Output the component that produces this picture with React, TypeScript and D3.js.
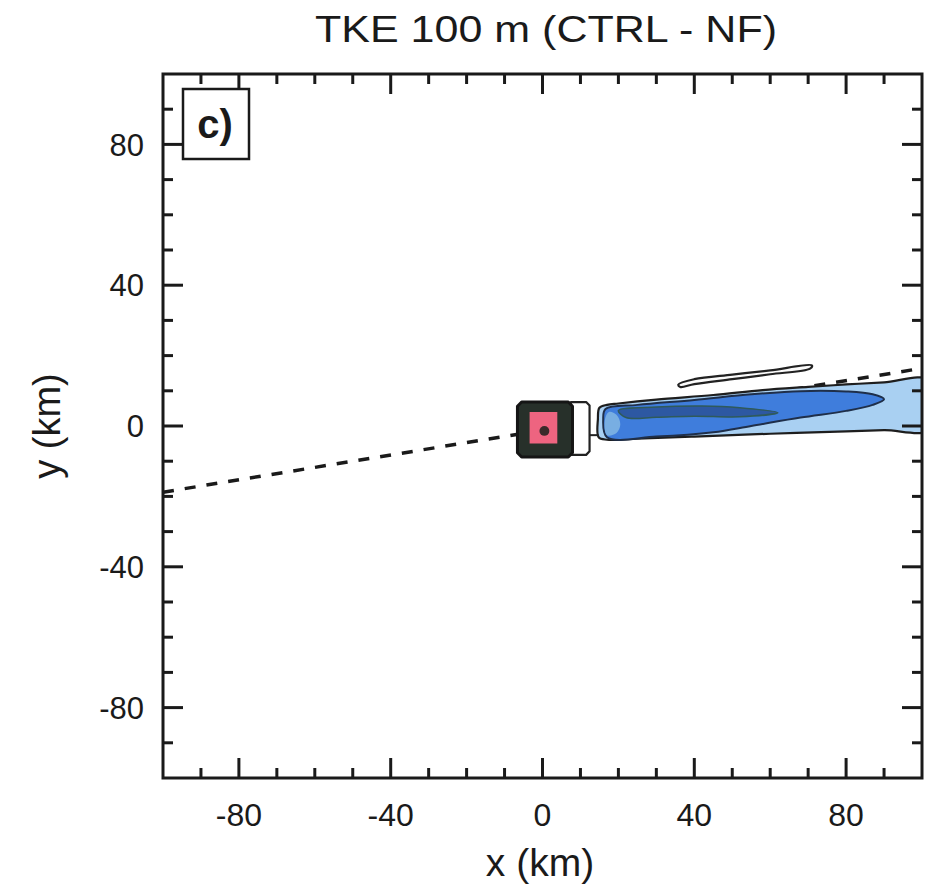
import React, { useEffect, useRef } from 'react';
import * as d3 from 'd3';

// axis ticks (km)
const majorTicks = [-80, -40, 0, 40, 80];
const minorTicks = [-90, -70, -60, -50, -30, -20, -10, 10, 20, 30, 50, 60, 70, 90];

// dashed trajectory line (km)
const trackLine: [number, number][] = [[-100, -18.8], [100, 16.4]];

// contour outlines (km)
const plumeOuter: [number, number][] = [
  [14.6, 2], [15, 5.2], [17, 6], [20, 6.4], [30, 7.5], [45, 8.8], [58, 10.2], [70, 11.1],
  [80, 11.8], [90, 12.4], [102, 13], [102, -1], [90, -1.2], [80, -1.5], [60, -2.2],
  [40, -3], [25, -3.6], [17, -3.9], [14.8, -3.2],
];
const plumeMid: [number, number][] = [
  [16, 2], [16.6, 4.8], [25, 6], [40, 7.4], [55, 9], [68, 9.9], [80, 9.8], [87, 9],
  [90, 7.6], [87, 6], [80, 4.3], [68, 2.4], [55, 0], [45, -1.8], [30, -3], [17, -3.2],
];
const plumeCore: [number, number][] = [
  [20, 4.4], [30, 5.4], [42, 5.7], [52, 5.2], [62, 3.8], [52, 2.6], [40, 2.8], [30, 2.5], [22, 2.4],
];
const plumeEdge: [number, number][] = [
  [16.4, 1.5], [17.5, 4], [19.5, 3.2], [20.5, 0.5], [19.5, -2], [17, -2.6],
];
const thinLobe: [number, number][] = [
  [35.8, 11.8], [40, 13.3], [50, 14.6], [60, 15.8], [71, 17.2], [70.5, 16.3], [60, 14.7],
  [50, 13.3], [40, 11.9], [36.3, 11.1],
];
const whiteBox: [number, number][] = [
  [7.5, 6.8], [11.5, 6.8], [12.4, 5.8], [12.4, -7.2], [11.5, -8.2], [7.5, -8.2],
];
const darkSquare: [number, number][] = [
  [-5.5, 6.8], [6.8, 6.8], [7.9, 5.6], [7.9, -7.6], [6.8, -8.8], [-5.5, -8.8], [-6.6, -7.6], [-6.6, 5.6],
];
const pinkSquare: [number, number][] = [[-3.4, 4], [3.9, 4], [3.9, -5], [-3.4, -5]];
const connector: [number, number][] = [[12.4, -2.6], [14.8, -2.6]];
const centreDot: [number, number] = [0.5, -1.4];

function TkeChart() {
  const ref = useRef<SVGSVGElement | null>(null);

  useEffect(() => {
    const element = ref.current;
    if (!element) return;
    document.body.style.margin = '0';

    const svg = d3.select(element);
    svg.selectAll('*').remove();

    const left = 163;
    const right = 922;
    const top = 74;
    const bottom = 778;
    const font = 'Liberation Sans, Arial, sans-serif';

    const x = d3.scaleLinear().domain([-100, 100]).range([left, right]);
    const y = d3.scaleLinear().domain([-100, 100]).range([bottom, top]);

    svg.append('defs')
      .append('clipPath')
      .attr('id', 'plot-clip')
      .append('rect')
      .attr('x', left)
      .attr('y', top)
      .attr('width', right - left)
      .attr('height', bottom - top);

    const g = svg.append('g').attr('clip-path', 'url(#plot-clip)');

    const closed = d3.line<[number, number]>()
      .x((d) => x(d[0]))
      .y((d) => y(d[1]))
      .curve(d3.curveCatmullRomClosed);
    const sharp = d3.line<[number, number]>()
      .x((d) => x(d[0]))
      .y((d) => y(d[1]))
      .curve(d3.curveLinearClosed);
    const open = d3.line<[number, number]>()
      .x((d) => x(d[0]))
      .y((d) => y(d[1]));

    // dashed line underneath the fills
    g.append('path')
      .attr('d', open(trackLine))
      .attr('fill', 'none')
      .attr('stroke', '#1a1a1a')
      .attr('stroke-width', 3.5)
      .attr('stroke-dasharray', '11 11');

    g.append('path').attr('d', closed(plumeOuter))
      .attr('fill', '#a9d0f2').attr('stroke', '#1e1e1e').attr('stroke-width', 2.2);
    g.append('path').attr('d', closed(plumeMid))
      .attr('fill', '#3f7ddc').attr('stroke', '#1f2f4a').attr('stroke-width', 2);
    g.append('path').attr('d', closed(plumeCore))
      .attr('fill', '#2d58a2').attr('stroke', '#2f5a5a').attr('stroke-width', 1.5);
    g.append('path').attr('d', closed(plumeEdge))
      .attr('fill', '#78aee2').attr('stroke', 'none');
    g.append('path').attr('d', closed(thinLobe))
      .attr('fill', '#fbfbfb').attr('stroke', '#222').attr('stroke-width', 2.2);

    g.append('path').attr('d', open(connector))
      .attr('fill', 'none').attr('stroke', '#222').attr('stroke-width', 2);
    g.append('path').attr('d', sharp(whiteBox))
      .attr('fill', '#ffffff').attr('stroke', '#222').attr('stroke-width', 2.2)
      .attr('stroke-linejoin', 'round');
    g.append('path').attr('d', sharp(darkSquare))
      .attr('fill', '#27302a').attr('stroke', '#151515').attr('stroke-width', 3)
      .attr('stroke-linejoin', 'round');
    g.append('path').attr('d', sharp(pinkSquare))
      .attr('fill', '#ee6480').attr('stroke', 'none');
    g.append('circle')
      .attr('cx', x(centreDot[0]))
      .attr('cy', y(centreDot[1]))
      .attr('r', x(1.3) - x(0))
      .attr('fill', '#3a2a2a');

    // frame
    svg.append('rect')
      .attr('x', left).attr('y', top)
      .attr('width', right - left).attr('height', bottom - top)
      .attr('fill', 'none').attr('stroke', '#1a1a1a').attr('stroke-width', 3);

    // inward ticks on all sides
    const ticks = [
      ...majorTicks.map((v) => ({ v, len: 20 })),
      ...minorTicks.map((v) => ({ v, len: 10 })),
    ];
    const tickG = svg.append('g').attr('stroke', '#1a1a1a').attr('stroke-width', 3);
    ticks.forEach((t) => {
      tickG.append('line').attr('x1', x(t.v)).attr('x2', x(t.v)).attr('y1', bottom).attr('y2', bottom - t.len);
      tickG.append('line').attr('x1', x(t.v)).attr('x2', x(t.v)).attr('y1', top).attr('y2', top + t.len);
      tickG.append('line').attr('y1', y(t.v)).attr('y2', y(t.v)).attr('x1', left).attr('x2', left + t.len);
      tickG.append('line').attr('y1', y(t.v)).attr('y2', y(t.v)).attr('x1', right).attr('x2', right - t.len);
    });

    // tick labels
    majorTicks.forEach((v) => {
      svg.append('text')
        .attr('x', x(v))
        .attr('y', 826)
        .attr('text-anchor', 'middle')
        .attr('font-family', font)
        .attr('font-size', 32)
        .attr('fill', '#1a1a1a')
        .text(String(v));
      svg.append('text')
        .attr('x', 144)
        .attr('y', y(v))
        .attr('dy', '0.36em')
        .attr('text-anchor', 'end')
        .attr('font-family', font)
        .attr('font-size', 31)
        .attr('fill', '#1a1a1a')
        .text(String(v));
    });

    // panel label
    svg.append('rect')
      .attr('x', 183).attr('y', 89).attr('width', 66).attr('height', 70)
      .attr('fill', '#fff').attr('stroke', '#1a1a1a').attr('stroke-width', 2.5);
    svg.append('text')
      .attr('x', 215).attr('y', 138)
      .attr('text-anchor', 'middle')
      .attr('font-family', font)
      .attr('font-size', 40)
      .attr('font-weight', 600)
      .attr('fill', '#1a1a1a')
      .text('c)');

    // titles
    svg.append('text')
      .attr('x', 546).attr('y', 42)
      .attr('text-anchor', 'middle')
      .attr('font-family', font)
      .attr('font-size', 36)
      .attr('textLength', 462)
      .attr('lengthAdjust', 'spacingAndGlyphs')
      .attr('fill', '#1a1a1a')
      .text('TKE 100 m (CTRL - NF)');
    svg.append('text')
      .attr('x', 540).attr('y', 876)
      .attr('text-anchor', 'middle')
      .attr('font-family', font)
      .attr('font-size', 39)
      .attr('fill', '#1a1a1a')
      .text('x (km)');
    svg.append('text')
      .attr('transform', `translate(60,${y(0)}) rotate(-90)`)
      .attr('text-anchor', 'middle')
      .attr('font-family', font)
      .attr('font-size', 38)
      .attr('fill', '#1a1a1a')
      .text('y (km)');
  }, []);

  return <svg ref={ref} width={928} height={891} style={{ display: 'block', background: '#fff' }} />;
}

export default function App() {
  return <TkeChart />;
}
